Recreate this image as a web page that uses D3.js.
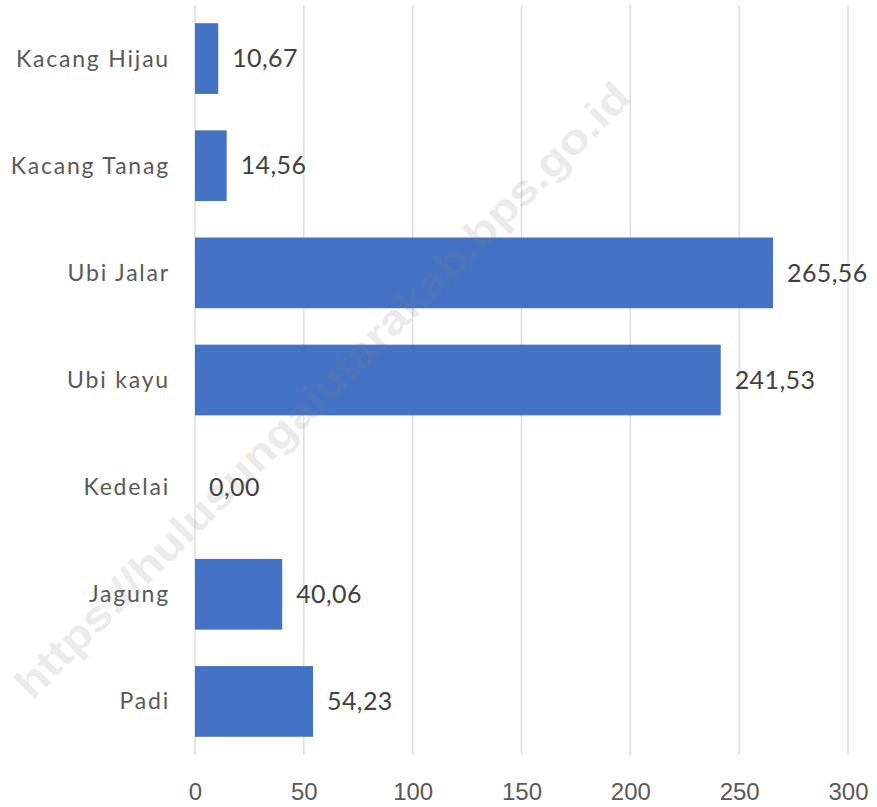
<!DOCTYPE html>
<html lang="en">
<head>
    <meta charset="utf-8">
    <style>
     body { margin: 0; background-color: white; }
     svg { background-color: white; font-family: Lato, "Open Sans", sans-serif; }
     .tick text { fill: #595959; font-size: 24px; }
     .cat { fill: #595959; font-size: 23px; letter-spacing: 1.8px; }
     .val { fill: #404040; font-size: 25px; letter-spacing: 0.4px; }
    </style>
    <title></title>
</head>
<body>
    <script src="https://d3js.org/d3.v7.min.js"></script>
    <script>
        // data
        var categories = ["Kacang Hijau", "Kacang Tanag", "Ubi Jalar", "Ubi kayu", "Kedelai", "Jagung", "Padi"];
        var values = [10.67, 14.56, 265.56, 241.53, 0.00, 40.06, 54.23];
        var xTicks = [0, 50, 100, 150, 200, 250, 300];

        var width = 877, height = 807;

        var svg = d3.select("body").append("svg")
                    .attr("width", width)
                    .attr("height", height);

        var x = d3.scaleLinear().domain([0, 300]).range([195, 848]);
        var y = d3.scaleBand().domain(categories).range([5, 755])
                  .paddingInner(0.34).paddingOuter(0.17);

        // vertical gridlines
        svg.append("g").selectAll("line")
            .data(xTicks)
            .enter().append("line")
            .attr("x1", function(d) { return x(d); })
            .attr("x2", function(d) { return x(d); })
            .attr("y1", 5)
            .attr("y2", 755)
            .attr("stroke", "#d9d9d9")
            .attr("stroke-width", 1.3);

        // x axis labels
        var xAxis = d3.axisBottom(x).tickValues(xTicks).tickSize(0).tickPadding(28);
        svg.append("g")
            .attr("transform", "translate(0,755)")
            .call(xAxis)
            .call(function(g) { g.select(".domain").remove(); });

        // bars
        svg.append("g").selectAll("rect")
            .data(values)
            .enter().append("rect")
            .attr("x", x(0))
            .attr("y", function(d, i) { return y(categories[i]); })
            .attr("width", function(d) { return x(d) - x(0); })
            .attr("height", y.bandwidth())
            .attr("fill", "#4472c4");

        // category labels
        svg.append("g").selectAll("text")
            .data(categories)
            .enter().append("text")
            .attr("class", "cat")
            .attr("x", x(0) - 25)
            .attr("y", function(d) { return y(d) + y.bandwidth() / 2; })
            .attr("dy", "0.35em")
            .attr("text-anchor", "end")
            .text(function(d) { return d; });

        // value labels
        var fmt = function(v) { return v.toFixed(2).replace(".", ","); };
        svg.append("g").selectAll("text")
            .data(values)
            .enter().append("text")
            .attr("class", "val")
            .attr("x", function(d) { return x(d) + 14; })
            .attr("y", function(d, i) { return y(categories[i]) + y.bandwidth() / 2; })
            .attr("dy", "0.35em")
            .text(fmt);

        // watermark
        svg.append("text")
            .attr("transform", "translate(322,390) rotate(-45)")
            .attr("text-anchor", "middle")
            .attr("dy", "0.35em")
            .attr("font-family", "Liberation Sans, Arial, sans-serif")
            .attr("font-weight", "bold")
            .attr("font-size", 42)
            .attr("textLength", 850)
            .attr("lengthAdjust", "spacingAndGlyphs")
            .attr("fill", "#808080")
            .attr("fill-opacity", 0.18)
            .text("https://hulusungaiutarakab.bps.go.id");
    </script>
</body>
</html>
